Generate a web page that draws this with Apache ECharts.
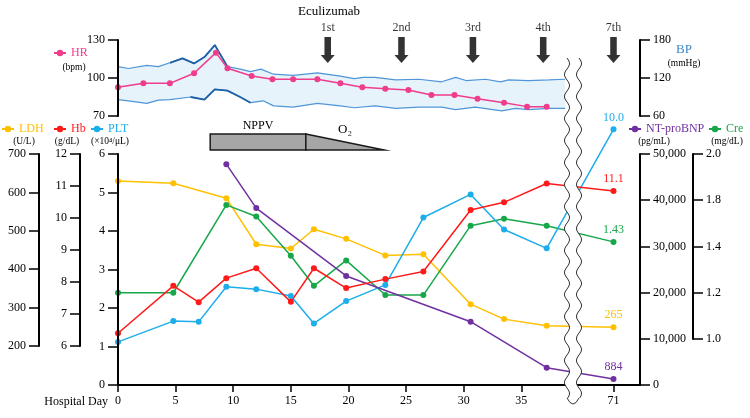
<!DOCTYPE html>
<html>
<head>
<meta charset="utf-8">
<script src="https://cdn.jsdelivr.net/npm/echarts@6/dist/echarts.min.js"></script>
<style>html,body{margin:0;padding:0;background:#fff}#main{width:750px;height:418px}</style>
</head>
<body>
<div id="main"></div>
<script>
// lab values by hospital day (day 71 sits after the axis break)
var labDays = [0, 4.8, 7, 9.4, 12, 15, 17, 19.8, 23.2, 26.5, 30.6, 33.5, 37.2, 71];
var hbValues = [6.4, 7.88, 7.37, 8.12, 8.43, 7.38, 8.43, 7.81, 8.09, 8.33, 10.25, 10.49, 11.08, 10.84];
var pltValues = [1.12, 1.66, 1.64, 2.55, 2.49, 2.31, 1.60, 2.18, 2.60, 4.35, 4.95, 4.04, 3.55, 6.64];
var ldhDays = [0, 4.8, 9.4, 12, 15, 17, 19.8, 23.2, 26.5, 30.6, 33.5, 37.2, 71];
var ldhValues = [630, 624, 585, 465, 454, 504, 479, 436, 439, 309, 270, 253, 249];
var creDays = [0, 4.8, 9.4, 12, 15, 17, 19.8, 23.2, 26.5, 30.6, 33.5, 37.2, 71];
var creValues = [1.20, 1.20, 1.58, 1.53, 1.36, 1.23, 1.34, 1.19, 1.19, 1.49, 1.52, 1.49, 1.42];
var bnpDays = [9.4, 12, 19.8, 30.6, 37.2, 71];
var bnpValues = [47800, 38300, 23600, 13700, 3750, 1300];
// numbers printed at the day 71 points
var endLabels = { ldh: '265', hb: '11.1', plt: '10.0', cre: '1.43', bnp: '884' };

// vital signs
var hrDays = [0, 2.2, 4.5, 6.6, 8.5, 9.5, 11.6, 13.4, 15.2, 17.3, 19.3, 21.2, 23.2, 25.2, 27.2, 29.2, 31.2, 33.5, 35.5, 37.2];
var hrValues = [92.7, 95.8, 95.8, 103.7, 120, 107.7, 101.6, 99, 99, 99, 95.8, 92.7, 91.6, 90.5, 86.6, 86.6, 83.7, 80.5, 77.4, 77.4];
var bpUpperDays = [0, 0.9, 2.5, 3.5, 4.5, 5.6, 6.6, 7.5, 8.4, 9.5, 10.6, 11.5, 12.4, 13.5, 15.2, 17.3, 19.3, 20.5, 21.3, 22.3, 24.1, 26.1, 28.1, 29.3, 30.2, 31.9, 33.2, 33.9, 35.6, 37.4, 38.8];
var bpUpperValues = [138, 135, 140, 138, 144, 151, 143, 153, 172, 138, 134, 130, 134, 126, 124, 128, 123, 119, 121, 121, 117, 118, 114, 121, 116, 118, 114, 117, 116, 117, 118];
var bpLowerDays = [0, 0.9, 2.5, 3.5, 4.5, 6.3, 7.5, 8.4, 9.5, 10.6, 11.5, 12.6, 13.5, 15.2, 17.3, 19.3, 20.5, 22.3, 24.1, 26.1, 28.1, 29.3, 31.0, 33.3, 34.5, 35.6, 37.4, 38.8];
var bpLowerValues = [86, 84, 80, 85, 86, 90, 86, 102, 100, 90, 81, 84, 76, 74, 80, 76, 73, 76, 72, 74, 74, 70, 74, 68, 72, 70, 72, 72];

// eculizumab doses and respiratory support
var doseDays = [18.2, 24.6, 30.8, 36.9, 71];
var doseLabels = ['1st', '2nd', '3rd', '4th', '7th'];
var nppvStart = 8, nppvEnd = 16.3, o2End = 23.1;

var tickDays = [0, 5, 10, 15, 20, 25, 30, 35, 71];
var creTickLabels = ['1.0', '1.2', '1.4', '1.8', '2.0'];

var SERIF = '"Liberation Serif", "DejaVu Serif", serif';
var C = { hr: '#f03c8c', ldh: '#ffc000', hb: '#ff1a1a', plt: '#1cadeb', cre: '#17a74a', bnp: '#7030a0', bp: '#4f95d8', bpDark: '#1f5fa6', bpText: '#3c87c8' };

function pos(day) { return day > 40 ? day - 28 : day; }   // 71 -> 43 on the compressed axis
function pairs(days, vals) { return days.map(function (d, i) { return [pos(d), vals[i]]; }); }
function endLabel(data, text, color) {
	var last = data.length - 1;
	data[last] = { value: data[last], label: { show: true, position: 'top', distance: 3, formatter: text, color: color, fontFamily: SERIF, fontSize: 12 } };
	return data;
}
function labSeries(name, color, xi, yi, data) {
	return { name: name, type: 'line', xAxisIndex: xi, yAxisIndex: yi, data: data, symbol: 'circle', symbolSize: 6, clip: false,
		color: color, lineStyle: { width: 1.5, color: color }, itemStyle: { color: color }, z: 3 };
}
function yAx(o) {
	var a = { type: 'value', splitLine: { show: false }, z: 5,
		axisLine: { show: true, onZero: false, lineStyle: { color: '#000', width: 2 } },
		axisTick: { show: true, length: 10, lineStyle: { color: '#000', width: 1.5 } },
		axisLabel: { color: '#000', fontSize: 12, fontFamily: SERIF, margin: 13 } };
	for (var k in o) a[k] = o[k];
	return a;
}
function hiddenX(gi) { return { type: 'value', gridIndex: gi, min: 0, max: 45.3, show: false }; }
function legendAt(name, color, left, top) {
	return { data: [{ name: name, textStyle: { color: color } }], left: left, top: top, padding: 0, itemWidth: 12, itemHeight: 8, itemGap: 4,
		selectedMode: false, textStyle: { fontSize: 12, fontFamily: SERIF } };
}
function txt(s, x, y, size, color) {
	return { type: 'text', x: x, y: y, z: 50, style: { text: s, align: 'center', verticalAlign: 'middle', font: size + 'px ' + SERIF, fill: color || '#000' } };
}

var tickPos = tickDays.map(pos);

// axis break (drawn on top of everything)
var waveL = [], waveR = [];
for (var y = 58; y <= 398; y += 1) {
	var dx = 2.5 * Math.sin((y - 58) / 22 * 2 * Math.PI);
	waveL.push([567 + dx, y]);
	waveR.push([579 + dx, y]);
}
var breakFill = waveL.concat(waveR.slice().reverse());

var myChart = echarts.init(document.getElementById('main'));
var option = {
	animation: false,
	grid: [
		{ left: 118, right: 110, top: 154, bottom: 33 },   // PLT / NT-proBNP
		{ left: 118, right: 110, top: 154, height: 192 },  // LDH / Hb
		{ left: 118, right: 110, top: 154, height: 185 },  // Cre
		{ left: 118, right: 110, top: 40, height: 76 },    // HR / BP
		{ left: 118, right: 110, top: 37, height: 26 },    // dose arrows
		{ left: 118, right: 110, top: 134, height: 16 }    // NPPV / O2
	],
	xAxis: [
		{ type: 'value', gridIndex: 0, min: 0, max: 45.3, splitLine: { show: false },
			axisLine: { show: true, onZero: false, lineStyle: { color: '#000', width: 2 } },
			axisTick: { show: true, length: 7, customValues: tickPos, lineStyle: { color: '#000', width: 1.5 } },
			axisLabel: { customValues: tickPos, color: '#000', fontSize: 12, fontFamily: SERIF, margin: 10,
				formatter: function (v) { var i = tickPos.indexOf(v); return i < 0 ? '' : String(tickDays[i]); } } },
		hiddenX(1), hiddenX(2), hiddenX(3), hiddenX(4), hiddenX(5)
	],
	yAxis: [
		yAx({ gridIndex: 0, position: 'left', min: 0, max: 6, interval: 1 }),
		yAx({ gridIndex: 0, position: 'right', min: 0, max: 50000, interval: 10000 }),
		yAx({ gridIndex: 1, position: 'left', offset: 79, min: 200, max: 700, interval: 100 }),
		yAx({ gridIndex: 1, position: 'left', offset: 38, min: 6, max: 12, interval: 1 }),
		yAx({ gridIndex: 2, position: 'right', offset: 53, min: 1.0, max: 1.8, interval: 0.2,
			axisLabel: { color: '#000', fontSize: 12, fontFamily: SERIF, margin: 13,
				formatter: function (v) { return creTickLabels[Math.round((v - 1) / 0.2)]; } } }),
		yAx({ gridIndex: 3, position: 'left', min: 70, max: 130, interval: 30 }),
		yAx({ gridIndex: 3, position: 'right', min: 60, max: 180, interval: 60 }),
		{ type: 'value', gridIndex: 4, min: 0, max: 1, show: false },
		{ type: 'value', gridIndex: 5, min: 0, max: 1, show: false }
	],
	legend: [
		legendAt('HR', C.hr, 53, 47),
		legendAt('LDH', C.ldh, 1, 123),
		legendAt('Hb', C.hb, 53, 123),
		legendAt('PLT', C.plt, 90, 123),
		legendAt('NT-proBNP', C.bnp, 628, 123),
		legendAt('Cre', C.cre, 708, 123)
	],
	series: [
		{ name: 'BP upper', type: 'line', xAxisIndex: 3, yAxisIndex: 6, data: pairs(bpUpperDays, bpUpperValues), symbol: 'none',
			lineStyle: { color: C.bp, width: 1.2 }, areaStyle: { color: '#e6f3fa', opacity: 1, origin: 'start' }, z: 1 },
		{ name: 'BP lower', type: 'line', xAxisIndex: 3, yAxisIndex: 6, data: pairs(bpLowerDays, bpLowerValues), symbol: 'none',
			lineStyle: { color: C.bp, width: 1.2 }, areaStyle: { color: '#fff', opacity: 1, origin: 'start' }, z: 1 },
		{ name: 'BP upper peak', type: 'line', xAxisIndex: 3, yAxisIndex: 6, data: pairs(bpUpperDays.slice(4, 10), bpUpperValues.slice(4, 10)),
			symbol: 'none', lineStyle: { color: C.bpDark, width: 1.8 }, z: 2 },
		{ name: 'BP lower peak', type: 'line', xAxisIndex: 3, yAxisIndex: 6, data: pairs(bpLowerDays.slice(5, 11), bpLowerValues.slice(5, 11)),
			symbol: 'none', lineStyle: { color: C.bpDark, width: 1.8 }, z: 2 },
		labSeries('HR', C.hr, 3, 5, pairs(hrDays, hrValues)),
		labSeries('LDH', C.ldh, 1, 2, endLabel(pairs(ldhDays, ldhValues), endLabels.ldh, C.ldh)),
		labSeries('Cre', C.cre, 2, 4, endLabel(pairs(creDays, creValues), endLabels.cre, C.cre)),
		labSeries('PLT', C.plt, 0, 0, endLabel(pairs(labDays, pltValues), endLabels.plt, C.plt)),
		labSeries('NT-proBNP', C.bnp, 0, 1, endLabel(pairs(bnpDays, bnpValues), endLabels.bnp, C.bnp)),
		labSeries('Hb', C.hb, 1, 3, endLabel(pairs(labDays, hbValues), endLabels.hb, C.hb)),
		{ name: 'Eculizumab', type: 'scatter', xAxisIndex: 4, yAxisIndex: 7, z: 4,
			symbol: 'path://M4,0 L11,0 L11,18 L15,18 L7.5,26 L0,18 L4,18 Z', symbolSize: [14, 26],
			itemStyle: { color: '#000' },
			label: { show: true, position: 'top', distance: 3, color: '#000', fontSize: 12, fontFamily: SERIF },
			data: doseDays.map(function (d, i) { return { value: [pos(d), 0.5], label: { formatter: doseLabels[i] } }; }) },
		{ name: 'support', type: 'custom', xAxisIndex: 5, yAxisIndex: 8, clip: false, z: 4,
			data: [[nppvStart, nppvEnd, o2End]],
			renderItem: function (params, api) {
				var a = api.coord([api.value(0), 0]), b = api.coord([api.value(1), 1]), c = api.coord([api.value(2), 0]);
				var top = b[1], bottom = a[1];
				var st = { fill: '#a6a6a6', stroke: '#1a1a1a', lineWidth: 1.5 };
				return { type: 'group', children: [
					{ type: 'rect', shape: { x: a[0], y: top, width: b[0] - a[0], height: bottom - top }, style: st },
					{ type: 'polygon', shape: { points: [[b[0], top], [c[0], bottom], [b[0], bottom]] }, style: st },
					{ type: 'text', style: { text: 'NPPV', x: (a[0] + b[0]) / 2, y: top - 8, align: 'center', verticalAlign: 'middle', font: '12px ' + SERIF, fill: '#000' } },
					{ type: 'text', style: { text: 'O₂', x: (b[0] + c[0]) / 2, y: top - 4, align: 'center', verticalAlign: 'middle', font: '13px ' + SERIF, fill: '#000' } }
				] };
			} }
	],
	graphic: [
		txt('Eculizumab', 329, 12, 13),
		txt('(bpm)', 74, 67, 9.5),
		txt('BP', 684, 50, 13, C.bpText),
		txt('(mmHg)', 684, 63, 9.5),
		txt('(U/L)', 24, 141, 9.5),
		txt('(g/dL)', 67, 141, 9.5),
		txt('(×10⁴/μL)', 110, 141, 9.5),
		txt('(pg/mL)', 654, 141, 9.5),
		txt('(mg/dL)', 727, 141, 9.5),
		{ type: 'text', x: 108, y: 402, z: 50, style: { text: 'Hospital Day', align: 'right', verticalAlign: 'middle', font: '12px ' + SERIF, fill: '#000' } },
		{ type: 'polygon', z: 100, shape: { points: breakFill }, style: { fill: '#fff' } },
		{ type: 'polyline', z: 101, shape: { points: waveL }, style: { stroke: '#333', lineWidth: 1, fill: null } },
		{ type: 'polyline', z: 101, shape: { points: waveR }, style: { stroke: '#333', lineWidth: 1, fill: null } },
		{ type: 'bezierCurve', z: 101, shape: { x1: 567, y1: 398, x2: 579, y2: 398, cpx1: 573, cpy1: 410 }, style: { stroke: '#333', lineWidth: 1, fill: null } }
	]
};
myChart.setOption(option);
</script>
</body>
</html>
